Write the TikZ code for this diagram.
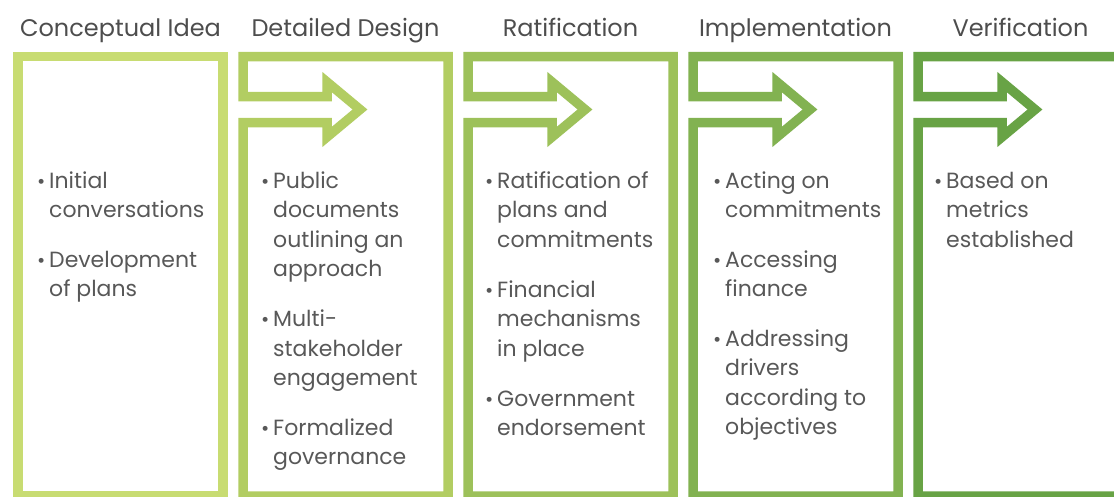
\documentclass[tikz,border=0pt]{standalone}
\usepackage{fontspec}
\setmainfont{Poppins}
\definecolor{cA}{HTML}{C8DC72}
\definecolor{cB}{HTML}{B2CD62}
\definecolor{cC}{HTML}{9DC15A}
\definecolor{cD}{HTML}{82B251}
\definecolor{cE}{HTML}{68A345}
\definecolor{headc}{HTML}{4D4D4D}
\definecolor{bodyc}{HTML}{585858}
\tikzset{
  frame/.style={line width=9.5pt, line join=miter},
  head/.style={anchor=base, inner sep=0pt, text=headc, font=\fontsize{24}{30}\selectfont},
  txt/.style={anchor=base west, inner sep=0pt, text=bodyc, font=\fontsize{22}{29.5}\selectfont},
  bul/.style={anchor=base west, inner sep=0pt, text=bodyc, font=\fontsize{20}{29.5}\selectfont}
}
\newcommand\bitem[4]{%
  \node[bul] (#1b) at (#2-12,#3) {\textbullet};
  \foreach \l [count=\k] in {#4} {\node[txt] (#1-\k) at (#2,#3+\k*29.5-29.5) {\l};}
}
\begin{document}
\begin{tikzpicture}[x=1pt,y=-1pt]
\useasboundingbox (0,0) rectangle (1114,496);
\clip (0,0) rectangle (1114,496);
% boxes
\draw[frame, draw=cA] (18,56.5) rectangle (223,496);
\foreach \i/\c in {1/cB,2/cC,3/cD,4/cE} {
  \begin{scope}[xshift=\i*225pt]
    \draw[frame, draw=\c] (18,56.5) -- (18,96.5) -- (102,96.5) -- (102,82) -- (135,109.5)
      -- (102,137) -- (102,122.5) -- (18,122.5) -- (18,496) -- (223,496) -- (223,56.5) -- cycle;
  \end{scope}
}
% headings
\node[head] (h1) at (120.5,36.5) {Conceptual Idea};
\node[head] (h2) at (345.5,36.5) {Detailed Design};
\node[head] (h3) at (570.5,36.5) {Ratification};
\node[head] (h4) at (795.5,36.5) {Implementation};
\node[head] (h5) at (1020.5,36.5) {Verification};
% box 1
\bitem{a1}{49}{188}{Initial,conversations}
\bitem{a2}{49}{267}{Development,of plans}
% box 2
\bitem{b1}{273}{188}{Public,documents,outlining an,approach}
\bitem{b2}{273}{326.5}{Multi-,stakeholder,engagement}
\bitem{b3}{273}{435}{Formalized,governance}
% box 3
\bitem{c1}{497}{188}{Ratification of,plans and,commitments}
\bitem{c2}{497}{297}{Financial,mechanisms,in place}
\bitem{c3}{497}{406}{Government,endorsement}
% box 4
\bitem{d1}{725}{188}{Acting on,commitments}
\bitem{d2}{725}{267}{Accessing,finance}
\bitem{d3}{725}{346}{Addressing,drivers,according to,objectives}
% box 5
\bitem{e1}{946}{188}{Based on,metrics,established}
\end{tikzpicture}
\end{document}
